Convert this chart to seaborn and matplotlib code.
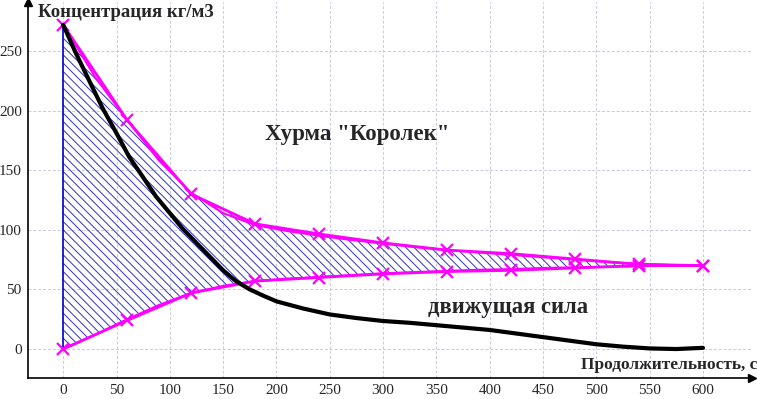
# Хурма "Королек": концентрация и движущая сила
import numpy as np
import pandas as pd
import seaborn as sns
import matplotlib.pyplot as plt

# точки измерений (маркеры)
t_pts = [0, 60, 120, 180, 240, 300, 360, 420, 480, 540, 600]
upper_pts = [272, 192, 130, 105, 96.5, 89, 83, 80, 75.5, 71, 70]
lower_pts = [0, 24, 47, 57, 60, 63, 65, 66, 68, 70, 70]

# сглаженные кривые
t_fit = [0, 30, 60, 90, 120, 150, 180, 210, 240, 270, 300, 330, 360, 390,
         420, 450, 480, 510, 540, 570, 600]
upper_fit = [272, 228, 192, 158, 131, 114, 104, 99, 95, 91.5, 88.5, 85.5, 83,
             81, 79, 77, 75, 73, 71.5, 70.5, 70]
lower_fit = [0, 12, 25, 37, 47, 53, 57, 59, 60.5, 62, 63.5, 64.5, 65.5, 66.5,
             67, 68, 68.5, 69, 69.5, 70, 70]

# движущая сила
t_force = [0, 12, 25, 37, 50, 62, 75, 87, 100, 112, 125, 137, 150, 162, 175,
           187, 200, 225, 250, 275, 300, 325, 350, 375, 400, 425, 450, 475,
           500, 525, 550, 575, 600]
force = [272, 248, 224, 202, 181, 161, 144, 128, 114, 101, 89, 78, 66, 57, 50,
         45, 40, 34, 29, 26, 23.5, 22, 20, 18, 16, 13, 10, 7, 4, 2, 0.5, 0, 1]

sns.set_style('white')
plt.rcParams['font.family'] = ['Liberation Serif', 'DejaVu Serif']
plt.rcParams['hatch.linewidth'] = 0.7

fig = plt.figure(figsize=(7.57, 3.99), dpi=100)
ax = fig.add_axes([28 / 757, 21 / 399, 724 / 757, 376 / 399])

magenta = '#ff00ff'

# штриховка между кривыми
n_h = 10
ax.fill_between(t_pts[:n_h], upper_pts[:n_h], lower_pts[:n_h], facecolor='none',
                edgecolor='#3030c8', hatch='\\\\\\\\', linewidth=0)
ax.plot([t_pts[0], t_pts[0]], [lower_pts[0], upper_pts[0]], color='#0000cc', lw=1.2)

df_pts = pd.DataFrame({'t': t_pts, 'up': upper_pts, 'low': lower_pts})
df_fit = pd.DataFrame({'t': t_fit, 'up': upper_fit, 'low': lower_fit})
df_force = pd.DataFrame({'t': t_force, 'f': force})

for col in ['up', 'low']:
    sns.lineplot(data=df_fit, x='t', y=col, color=magenta, lw=1.5, ax=ax)
    sns.lineplot(data=df_pts, x='t', y=col, color=magenta, lw=2,
                 marker='x', markersize=9, markeredgewidth=1.6,
                 markeredgecolor=magenta, ax=ax)

sns.lineplot(data=df_force, x='t', y='f', color='black', lw=3, ax=ax)

ax.set_xlim(-33, 646)
ax.set_ylim(-24.3, 291.1)
ax.set_xticks(np.arange(0, 601, 50))
ax.set_yticks(np.arange(0, 251, 50))
ax.grid(True, color='#c8c8e6', linestyle=(0, (3, 2)), linewidth=0.7)
ax.set_xlabel('')
ax.set_ylabel('')

for s in ['top', 'right']:
    ax.spines[s].set_visible(False)
for s in ['left', 'bottom']:
    ax.spines[s].set_color('black')
    ax.spines[s].set_linewidth(1.2)
ax.tick_params(axis='both', direction='out', length=4, width=1, color='black',
               labelsize=11, pad=0.5)

# стрелки осей
ax.plot(0, 1, marker='^', color='black', markersize=6, transform=ax.transAxes,
        clip_on=False)
ax.plot(1, 0, marker='>', color='black', markersize=6, transform=ax.transAxes,
        clip_on=False)

ax.text(0.014, 0.972, 'Концентрация кг/м3', transform=ax.transAxes,
        fontsize=13.5, fontweight='bold', ha='left', va='center')
ax.text(1.007, 0.034, 'Продолжительность, с', transform=ax.transAxes,
        fontsize=12.5, fontweight='bold', ha='right', va='center')
ax.text(276, 180, 'Хурма "Королек"', fontsize=16.5, fontweight='bold',
        ha='center', va='center')
ax.text(417, 35, 'движущая сила', fontsize=16.3, fontweight='bold',
        ha='center', va='center')

fig.savefig('out.png', dpi=100)
